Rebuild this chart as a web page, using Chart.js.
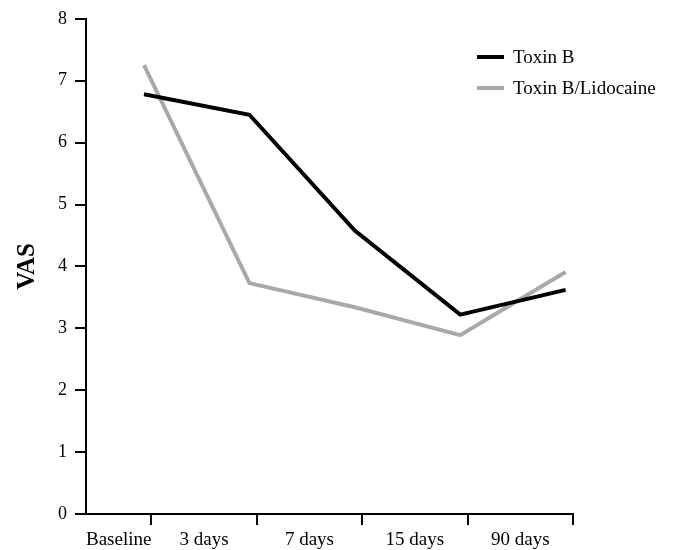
<!DOCTYPE html>
<html>
<head>
<meta charset="utf-8">
<script src="https://cdn.jsdelivr.net/npm/chart.js@4"></script>
<style>
    body { margin: 0; background: #fff; }
    #wrapper { position: relative; width: 673px; height: 550px; }
    #legend { position: absolute; left: 477px; top: 41px; font-family: "Liberation Serif", serif; font-size: 19px; color: #000; }
    .item { display: flex; align-items: center; height: 31px; }
    .swatch { width: 27px; height: 4px; margin-right: 9px; }
</style>
</head>
<body>
<div id="wrapper">
    <canvas id="chart"></canvas>
    <div id="legend"></div>
</div>
<script>
"use strict"

// data
const categories = ["Baseline", "3 days", "7 days", "15 days", "90 days"];
const toxinB = [6.78, 6.45, 4.58, 3.22, 3.62];
const toxinBLido = [7.25, 3.73, 3.34, 2.89, 3.91];
const seriesNames = ["Toxin B", "Toxin B/Lidocaine"];
const yTicks = [0, 1, 2, 3, 4, 5, 6, 7, 8];

const colors = ["#000000", "#a9a9a9"];
const xMin = -0.55;
const xMax = 4.07;
const tickShift = 0.07; // tick marks sit at the right edge of each category

window.onload = function () {
    let canvas = document.getElementById("chart");
    let serif = "'Liberation Serif', 'Times New Roman', serif";

    let datasets = [toxinB, toxinBLido].map(function (values, s) {
        return {
            label: seriesNames[s],
            data: values.map((v, i) => ({ x: i, y: v })),
            borderColor: colors[s],
            backgroundColor: colors[s],
            borderWidth: 4,
            pointRadius: 0,
            tension: 0
        };
    });

    // tick marks between categories, labels centred inside them
    let edges = categories.map((c, i) => i + tickShift);
    let centres = edges.map((e, i) => ((i == 0 ? xMin : edges[i - 1]) + e) / 2);

    new Chart(canvas, {
        type: "line",
        data: { datasets: datasets },
        options: {
            responsive: true,
            maintainAspectRatio: false,
            animation: false,
            layout: { padding: { top: 16, right: 100, left: 0, bottom: 0 } },
            plugins: {
                legend: { display: false },
                tooltip: { enabled: false }
            },
            scales: {
                x: {
                    type: "linear",
                    position: "bottom",
                    weight: 0,
                    bounds: "data",
                    min: xMin,
                    max: xMax,
                    afterBuildTicks: function (scale) {
                        scale.ticks = edges.map(v => ({ value: v }));
                    },
                    afterFit: function (scale) { scale.height = 0; },
                    ticks: { display: false },
                    grid: { drawOnChartArea: false, drawTicks: true, tickLength: 11, color: "#000", lineWidth: 2 },
                    border: { color: "#000", width: 2 }
                },
                xl: {
                    type: "linear",
                    position: "bottom",
                    weight: 1,
                    bounds: "data",
                    min: xMin,
                    max: xMax,
                    afterBuildTicks: function (scale) {
                        scale.ticks = centres.map(v => ({ value: v }));
                    },
                    afterFit: function (scale) { scale.height = 36; },
                    ticks: {
                        autoSkip: false,
                        maxRotation: 0,
                        padding: 15,
                        color: "#000",
                        font: { family: serif, size: 19 },
                        callback: function (value, index) { return categories[index]; }
                    },
                    grid: { display: false, drawTicks: false },
                    border: { display: false }
                },
                y: {
                    min: yTicks[0],
                    max: yTicks[yTicks.length - 1],
                    afterBuildTicks: function (scale) {
                        scale.ticks = yTicks.map(v => ({ value: v }));
                    },
                    afterFit: function (scale) { scale.width = 86; },
                    ticks: {
                        padding: 8,
                        color: "#000",
                        font: { family: serif, size: 18 }
                    },
                    grid: { drawOnChartArea: false, drawTicks: true, tickLength: 11, color: "#000", lineWidth: 2 },
                    border: { color: "#000", width: 2 },
                    title: {
                        display: true,
                        text: "VAS",
                        color: "#000",
                        padding: { top: 13, bottom: 0 },
                        font: { family: serif, size: 25, weight: "bold" }
                    }
                }
            }
        }
    });

    // legend built from the same series
    let legend = document.getElementById("legend");
    seriesNames.forEach(function (name, s) {
        let item = document.createElement("div");
        item.className = "item";
        let sw = document.createElement("span");
        sw.className = "swatch";
        sw.style.background = colors[s];
        let txt = document.createElement("span");
        txt.textContent = name;
        item.appendChild(sw);
        item.appendChild(txt);
        legend.appendChild(item);
    });
}
</script>
</body>
</html>
